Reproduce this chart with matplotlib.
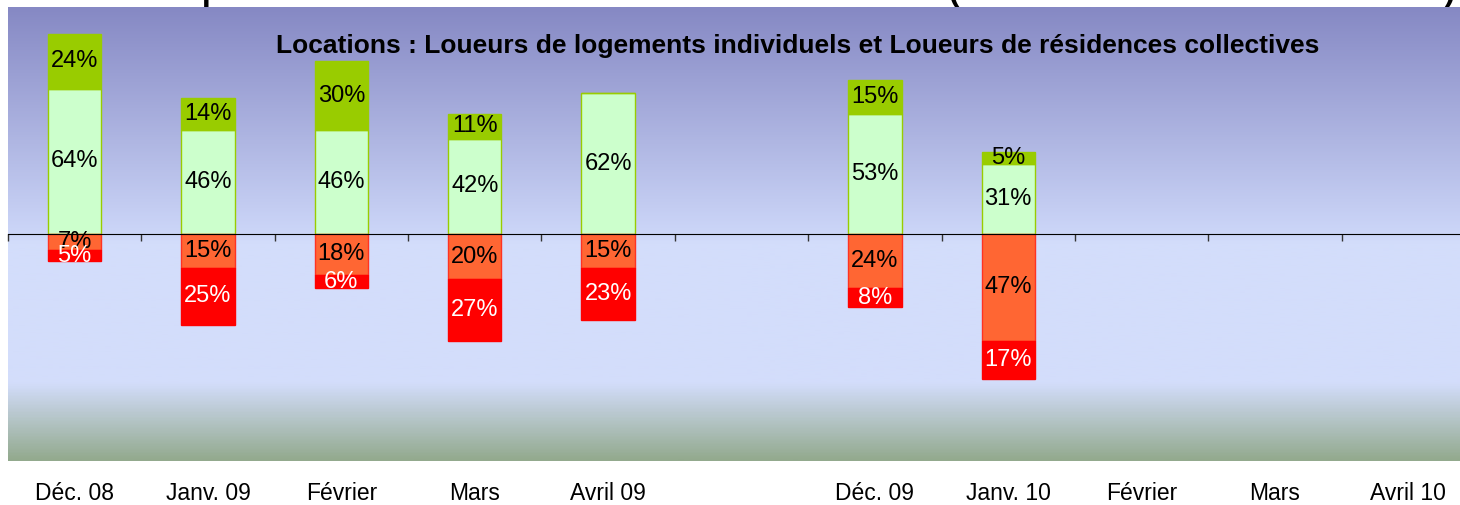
import numpy as np
import matplotlib
matplotlib.use("Agg")
import matplotlib.pyplot as plt
from matplotlib.colors import LinearSegmentedColormap

plt.rcParams['font.family'] = ['Liberation Sans', 'DejaVu Sans']

categories = ["Déc. 08", "Janv. 09", "Février", "Mars", "Avril 09", "",
              "Déc. 09", "Janv. 10", "Février", "Mars", "Avril 10"]
nan = np.nan
light_green = [64, 46, 46, 42, 62, nan, 53, 31, nan, nan, nan]
dark_green = [24, 14, 30, 11, 0, nan, 15, 5, nan, nan, nan]
orange = [7, 15, 18, 20, 15, nan, 24, 47, nan, nan, nan]
red = [5, 25, 6, 27, 23, nan, 8, 17, nan, nan, nan]

title = "Etat d'esprit des établissements sur leur niveau d'activité (distribution de l'activité actuelle)"
subtitle = "Locations : Loueurs de logements individuels et Loueurs de résidences collectives"

W, H = 1460, 505
fig = plt.figure(figsize=(W / 100, H / 100), dpi=100)
left, right, top, bottom = 8, 1475, 7, 461
ax = fig.add_axes([left / W, (H - bottom) / H, (right - left) / W, (bottom - top) / H])

# background gradient
cmap = LinearSegmentedColormap.from_list(
    "bg", [(0.0, "#8689C4"), (0.5, "#CCD6F8"), (0.52, "#D3DDFB"),
           (0.83, "#D3DDFB"), (1.0, "#93AA8E")])
grad = np.linspace(0, 1, 400).reshape(-1, 1)
ax.imshow(grad, cmap=cmap, aspect='auto', extent=(0, 1, 0, 1),
          transform=ax.transAxes, zorder=0, interpolation='bilinear')

x = np.arange(len(categories))
lg = np.array(light_green, float)
dg = np.array(dark_green, float)
og = np.array(orange, float)
rd = np.array(red, float)
w = 0.4

ax.bar(x, lg, w, color="#CCFFCC", edgecolor="#99CC00", linewidth=1, zorder=2)
ax.bar(x, dg, w, bottom=lg, color="#99CC00", edgecolor="#99CC00", linewidth=1, zorder=2)
ax.bar(x, -og, w, color="#FF6633", edgecolor="#FF3322", linewidth=1, zorder=2)
ax.bar(x, -rd, w, bottom=-og, color="#FF0000", edgecolor="#FF0000", linewidth=1, zorder=2)

fs = 17
for i in range(len(categories)):
    if np.isnan(lg[i]):
        continue
    if lg[i] > 0:
        ax.text(x[i], lg[i] / 2, f"{lg[i]:.0f}%", ha='center', va='center', fontsize=fs, color='black', zorder=4)
    if dg[i] > 0:
        ax.text(x[i], lg[i] + dg[i] / 2, f"{dg[i]:.0f}%", ha='center', va='center', fontsize=fs, color='black', zorder=4)
    if og[i] > 0:
        ax.text(x[i], -og[i] / 2, f"{og[i]:.0f}%", ha='center', va='center', fontsize=fs, color='black', zorder=4)
    if rd[i] > 0:
        ax.text(x[i], -og[i] - rd[i] / 2, f"{rd[i]:.0f}%", ha='center', va='center', fontsize=fs, color='white', zorder=4)

ax.set_xlim(-0.5, len(categories) - 0.5)
ax.set_ylim(-100, 100)
for s in ['top', 'right', 'left']:
    ax.spines[s].set_visible(False)
ax.spines['bottom'].set_position(('data', 0))
ax.spines['bottom'].set_zorder(3)
ax.set_yticks([])
ax.set_xticks(np.arange(len(categories) + 1) - 0.5)
ax.set_xticklabels([])
ax.tick_params(axis='x', direction='out', length=5, width=1, color='#333333')

sec = ax.secondary_xaxis('bottom')
sec.set_xticks(x)
sec.set_xticklabels(categories, fontsize=16.5)
sec.tick_params(axis='x', length=0, pad=15)
sec.spines['bottom'].set_visible(False)

ax.text(0.538, 0.914, subtitle, transform=ax.transAxes, ha='center', va='center',
        fontsize=19, fontweight='bold', zorder=5)

fig.text(1455 / W, 1 + 0.2 / H, title, ha='right', va='baseline', fontsize=23, fontweight='bold')

fig.savefig("out.png", dpi=100)
